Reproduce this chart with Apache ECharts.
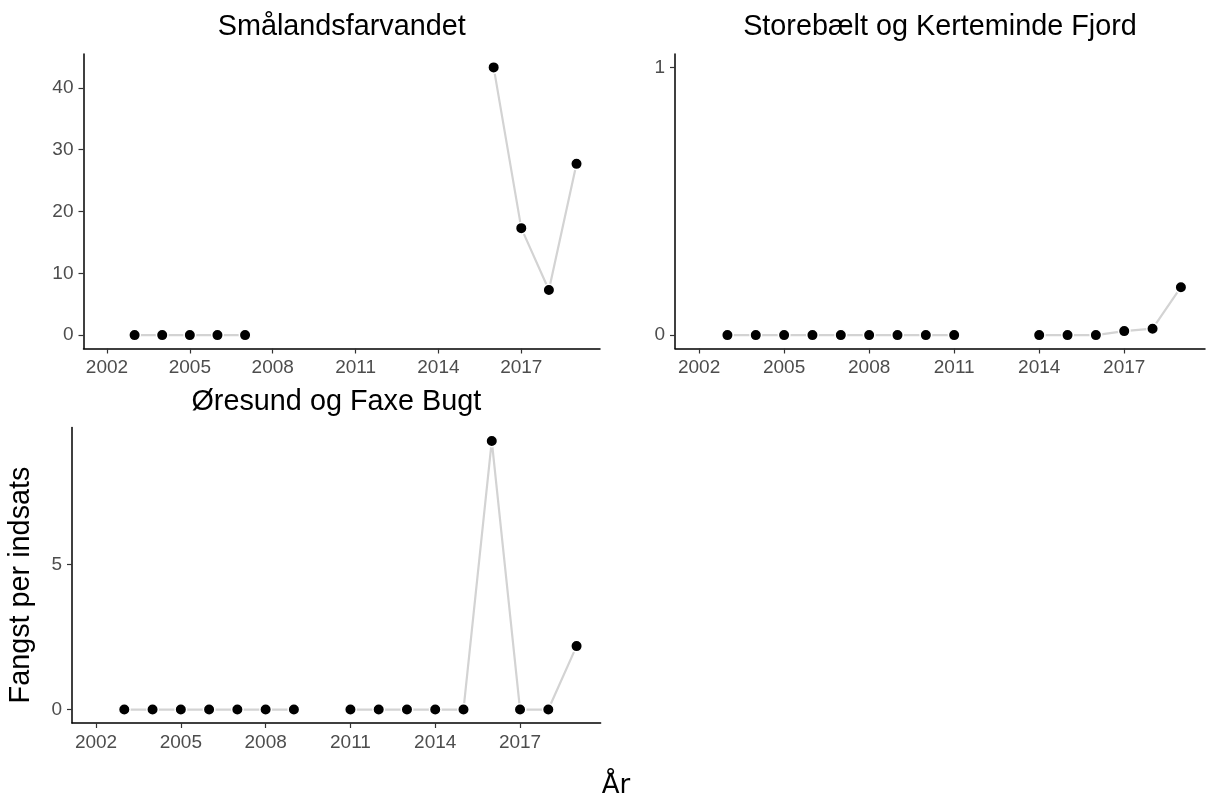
<!DOCTYPE html>
<html>
<head>
<meta charset="utf-8">
<script src="https://cdn.jsdelivr.net/npm/echarts@6/dist/echarts.min.js"></script>
<style>
html,body{margin:0;padding:0;background:#fff;}
#chart{width:1208px;height:796px;}
</style>
</head>
<body>
<div id="chart"></div>
<script>
// ---- data ----
const years = [2003,2004,2005,2006,2007,2008,2009,2010,2011,2012,2013,2014,2015,2016,2017,2018,2019];
const smaalandsfarvandet = [0,0,0,0,0,null,null,null,null,null,null,null,null,43.3,17.3,7.3,27.7];
const storebaelt = [0,0,0,0,0,0,0,0,0,null,null,0,0,0,0.015,0.024,0.179];
const oresund = [0,0,0,0,0,0,0,null,0,0,0,0,0,9.27,0,0,2.19];
const panelTitles = ['Smålandsfarvandet','Storebælt og Kerteminde Fjord','Øresund og Faxe Bugt'];
const xTicks = [2002,2005,2008,2011,2014,2017];
const yTicks1 = [0,10,20,30,40];
const yTicks2 = [0,1];
const yTicks3 = [0,5];
const yTitle = 'Fangst per indsats';
const xTitle = 'År';

// ---- layout ----
const FONT = '"Liberation Sans", Arial, sans-serif';
const grids = [
  {left:83.5, top:54, width:516.5, height:294.5},
  {left:675, top:54, width:530, height:294.5},
  {left:72, top:427.5, width:528.6, height:295.5}
];
const xMin = 2002 - 0.05*17, xMax = 2019 + 0.05*17;
const yLims = [
  [-0.05*43.3, 43.3*1.05],
  [-0.05, 1.05],
  [-0.05*9.27, 9.27*1.05]
];
const yTickSets = [yTicks1, yTicks2, yTicks3];
const seriesData = [smaalandsfarvandet, storebaelt, oresund];

const xAxes = grids.map((g,i)=>({
  type:'value', gridIndex:i, min:xMin, max:xMax,
  axisLine:{show:true, onZero:false, lineStyle:{color:'#000', width:1.5}},
  axisTick:{show:true, length:5, customValues:xTicks, lineStyle:{color:'#333', width:1.2}},
  axisLabel:{customValues:xTicks, formatter:v=>String(Math.round(v)), color:'#4d4d4d', fontSize:19, fontFamily:FONT, margin:10},
  splitLine:{show:false}
}));
const yAxes = grids.map((g,i)=>({
  type:'value', gridIndex:i, min:yLims[i][0], max:yLims[i][1],
  axisLine:{show:true, onZero:false, lineStyle:{color:'#000', width:1.5}},
  axisTick:{show:true, length:5, customValues:yTickSets[i], lineStyle:{color:'#333', width:1.2}},
  axisLabel:{customValues:yTickSets[i], formatter:v=>String(v), color:'#4d4d4d', fontSize:19, fontFamily:FONT, margin:10},
  splitLine:{show:false}
}));
const series = seriesData.map((vals,i)=>({
  type:'line', xAxisIndex:i, yAxisIndex:i,
  data: years.map((y,k)=>[y, vals[k]===null ? '-' : vals[k]]),
  connectNulls:false,
  symbol:'circle', symbolSize:11.5, showSymbol:true,
  lineStyle:{color:'#d3d3d3', width:2.2},
  itemStyle:{color:'#000', borderColor:'#fff', borderWidth:1.5},
  z:2
}));

const titlePos = [[341.75, 27], [940, 27], [336.3, 402]];
const graphics = panelTitles.map((t,i)=>({
  type:'text', x:titlePos[i][0], y:titlePos[i][1],
  style:{text:t, font:'28.8px ' + FONT, fill:'#000', textAlign:'center', textVerticalAlign:'middle'}
}));
graphics.push({
  type:'text', x:21, y:585, rotation:Math.PI/2,
  style:{text:yTitle, font:'28.8px ' + FONT, fill:'#000', textAlign:'center', textVerticalAlign:'middle'}
});
graphics.push({
  type:'text', x:616, y:786,
  style:{text:xTitle, font:'26px "DejaVu Sans", sans-serif', fill:'#000', textAlign:'center', textVerticalAlign:'middle'}
});

const chart = echarts.init(document.getElementById('chart'), null, {renderer:'canvas'});
chart.setOption({
  animation:false,
  backgroundColor:'#fff',
  grid: grids,
  xAxis: xAxes,
  yAxis: yAxes,
  series: series,
  graphic: graphics
});
</script>
</body>
</html>
